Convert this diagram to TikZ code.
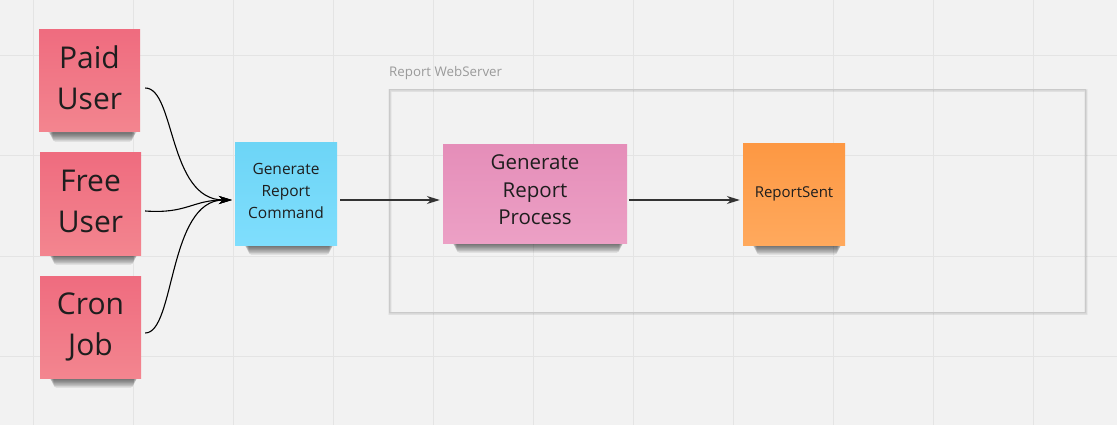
\documentclass[tikz,border=0pt]{standalone}
\usepackage{fontspec}
\setmainfont{Open Sans}
\usetikzlibrary{arrows.meta}
\definecolor{bg}{HTML}{F2F2F2}
\definecolor{gridc}{HTML}{E4E4E4}
\definecolor{redtop}{HTML}{EF6C7F}
\definecolor{redbot}{HTML}{F3858F}
\definecolor{cyantop}{HTML}{6DD5F6}
\definecolor{cyanbot}{HTML}{7FDEFD}
\definecolor{pinktop}{HTML}{E58EB9}
\definecolor{pinkbot}{HTML}{ECA0C5}
\definecolor{orangetop}{HTML}{FD9843}
\definecolor{orangebot}{HTML}{FFA95D}
\definecolor{txt}{HTML}{1E1E1E}
\definecolor{framec}{HTML}{CACACA}
\definecolor{labelc}{HTML}{9A9A9A}
\tikzset{
  redsize/.style={inner sep=0pt, minimum width=101pt, minimum height=102pt},
  cmdsize/.style={inner sep=0pt, minimum width=102pt, minimum height=102pt},
  procsize/.style={inner sep=0pt, minimum width=184pt, minimum height=98pt},
  evsize/.style={inner sep=0pt, minimum width=102pt, minimum height=101pt},
  sticky/.style={inner sep=0pt, align=center, text=txt},
  redsticky/.style={sticky, redsize, top color=redtop, bottom color=redbot,
    font=\fontsize{30}{41}\selectfont},
  cmdsticky/.style={sticky, cmdsize, top color=cyantop, bottom color=cyanbot,
    font=\fontsize{15.5}{21.7}\selectfont},
  procsticky/.style={sticky, procsize, top color=pinktop, bottom color=pinkbot,
    font=\fontsize{20.5}{27.5}\selectfont},
  evsticky/.style={sticky, evsize, top color=orangetop, bottom color=orangebot,
    font=\fontsize{15}{20}\selectfont},
  conn/.style={line width=1.1pt, black},
  flow/.style={line width=1.1pt, black!80, -{Stealth[length=13pt,width=8pt]}},
  curvearrow/.style={conn, -{Stealth[length=13pt,width=8pt]}},
}
\newcommand{\stickyshadow}[1]{%
  \foreach \k in {1,...,6}{%
    \fill[black, opacity=0.11, rounded corners=3pt]
      ([xshift={9pt+0.8pt*\k}, yshift=2pt]#1.south west) rectangle
      ([xshift={-3pt-0.8pt*\k}, yshift={-0.5pt-1.5pt*\k}]#1.south east);
  }%
}
\begin{document}
\begin{tikzpicture}[x=1pt, y=-1pt]
\useasboundingbox (0,0) rectangle (1117,425);
\fill[bg] (0,0) rectangle (1117,425);
% grid
\foreach \gx in {33,133,...,1033} \draw[gridc, line width=1pt] (\gx,0) -- (\gx,425);
\foreach \gy in {56,156,256,356} \draw[gridc, line width=1pt] (0,\gy) -- (1117,\gy);

% container
\node[anchor=south west, inner sep=0pt, text=labelc, font=\fontsize{13.3}{16}\selectfont] (clabel) at (389,79.5) {Report WebServer};
\coordinate (cnw) at (389,89);
\coordinate (cse) at (1085,312);
\foreach \k in {1,...,3}{
  \draw[black, opacity=0.035, line width={1.2pt*\k}] ([xshift=1pt,yshift=-1.5pt]cnw) rectangle ([xshift=1pt,yshift=-1.5pt]cse);
}
\draw[framec, line width=0.7pt] (cnw) rectangle (cse);

% node positions
\coordinate (pPaid) at (89.5,81);
\coordinate (pFree) at (90.5,204);
\coordinate (pCron) at (90.5,327);
\coordinate (pCmd) at (286,194);
\coordinate (pProc) at (535,194);
\coordinate (pSent) at (794,194.5);

% placeholders for shadows
\path node[redsize] (sPaid) at (pPaid) {}
      node[redsize] (sFree) at (pFree) {}
      node[redsize] (sCron) at (pCron) {}
      node[cmdsize] (sCmd) at (pCmd) {}
      node[procsize] (sProc) at (pProc) {}
      node[evsize] (sSent) at (pSent) {};
\stickyshadow{sPaid}
\stickyshadow{sFree}
\stickyshadow{sCron}
\stickyshadow{sCmd}
\stickyshadow{sProc}
\stickyshadow{sSent}

\node[redsticky] (paid) at (pPaid) {Paid\\User\\[-35pt]\mbox{}};
\node[redsticky] (free) at (pFree) {Free\\User\\[-35pt]\mbox{}};
\node[redsticky] (cron) at (pCron) {Cron\\Job\\[-35pt]\mbox{}};
\node[cmdsticky] (cmd) at (pCmd) {Generate\\Report\\Command\\[-15.7pt]\mbox{}};
\node[procsticky] (proc) at (pProc) {Generate\\Report\\Process\\[-19.5pt]\mbox{}};
\node[evsticky] (sent) at (pSent) {ReportSent\\[-16pt]\mbox{}};

% connectors
\coordinate (cmdin) at ([xshift=-3pt,yshift=-6pt]cmd.west);
\draw[curvearrow] ([xshift=5pt,yshift=-7pt]paid.east) .. controls +(30,0) and (168,200) .. (cmdin);
\draw[curvearrow] ([xshift=4pt,yshift=-7pt]free.east) .. controls +(42,3) and (192,200) .. (cmdin);
\draw[curvearrow] ([xshift=4pt,yshift=-6pt]cron.east) .. controls +(30,0) and (168,200) .. (cmdin);

\draw[flow] ([xshift=3pt,yshift=-6pt]cmd.east) -- ([xshift=-3pt,yshift=-6pt]proc.west);
\draw[flow] ([xshift=2pt,yshift=-6pt]proc.east) -- ([xshift=-3pt,yshift=-5.5pt]sent.west);
\end{tikzpicture}
\end{document}
